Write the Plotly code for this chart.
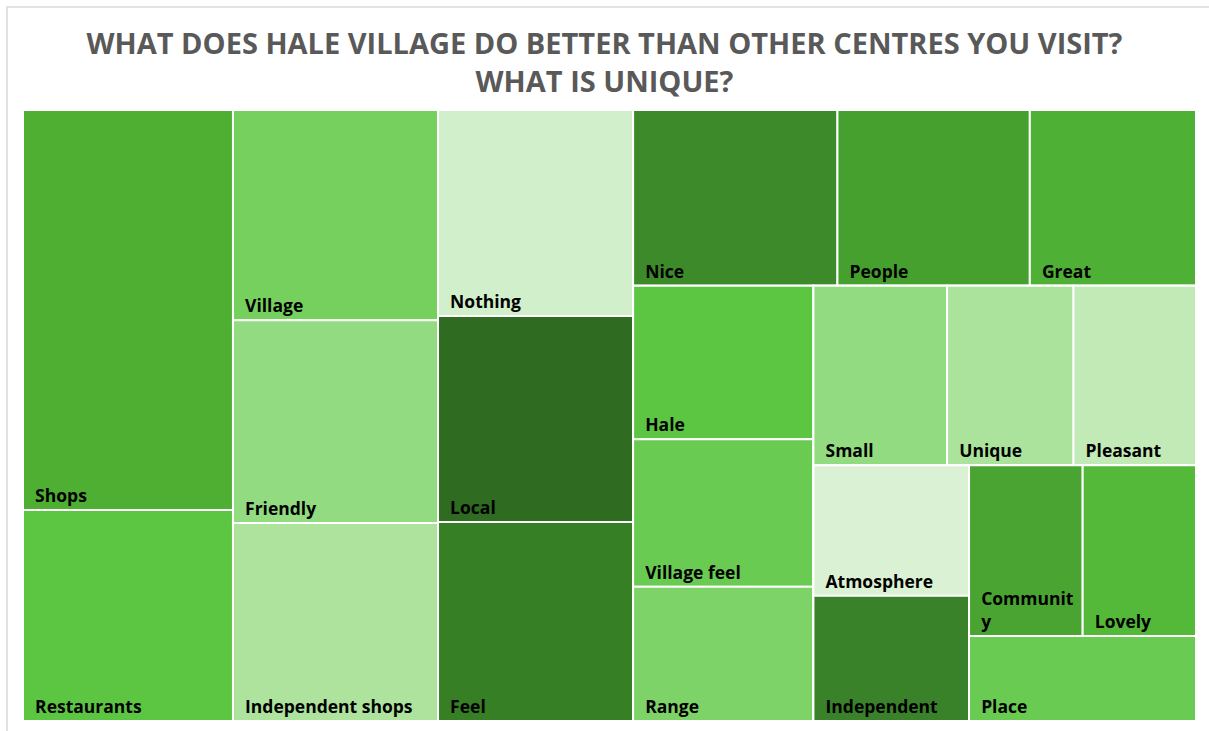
import plotly.graph_objects as go

# ---- data ----
labels = ["Shops", "Restaurants", "Village", "Friendly", "Independent shops",
          "Nothing", "Local", "Feel", "Nice", "People", "Great", "Hale",
          "Village feel", "Range", "Small", "Unique", "Pleasant", "Atmosphere",
          "Independent", "Community", "Lovely", "Place"]
display_text = ["Shops", "Restaurants", "Village", "Friendly", "Independent shops",
                "Nothing", "Local", "Feel", "Nice", "People", "Great", "Hale",
                "Village feel", "Range", "Small", "Unique", "Pleasant", "Atmosphere",
                "Independent", "Communit<br>y", "Lovely", "Place"]
values = [84.0, 44.3, 43.1, 41.6, 40.6, 40.2, 40.2, 38.8, 35.9, 33.8, 29.2, 27.7,
          26.6, 24.2, 24.0, 22.7, 22.0, 20.3, 19.5, 19.4, 19.35, 19.3]
colors = ["#4EAF32", "#5CC542", "#76D05E", "#93DB80", "#ADE39D",
          "#D2EFCB", "#2F6B20", "#367F25", "#3D8A2A", "#46A02E", "#4EB034", "#5CC542",
          "#69CB51", "#7DD367", "#93DB80", "#ABE39C", "#C2EAB6", "#DAF2D3",
          "#3A822A", "#4AA431", "#54B839", "#69CB51"]

# grouping used by the tiling (Excel-like strip layout)
leaf_group = ["col1", "col1", "col2", "col2", "col2", "col3", "col3", "col3",
              "row1", "row1", "row1", "col4", "col4", "col4", "row2", "row2", "row2",
              "col5", "col5", "row3", "row3", "rest5"]
groups = ["all", "col1", "col2", "col3", "rest1", "row1", "rest2", "col4",
          "rest3", "row2", "rest4", "col5", "rest5", "row3"]
group_parents = ["", "all", "all", "all", "all", "rest1", "rest1", "rest2",
                 "rest2", "rest3", "rest3", "rest4", "rest4", "rest5"]

title_text = "WHAT DOES HALE VILLAGE DO BETTER THAN OTHER CENTRES YOU VISIT?<br>WHAT IS UNIQUE?"

W, H = 1209, 731
L, R, T, B = 23, 13, 110, 10

ids = groups + labels
parents = group_parents + leaf_group
all_labels = groups + labels
all_values = [0] * len(groups) + values
all_colors = ["white"] * len(groups) + colors
all_text = [""] * len(groups) + ["\u00a0\u00a0" + t.replace("<br>", "<br>\u00a0\u00a0") for t in display_text]

fig = go.Figure(go.Treemap(
    ids=ids,
    labels=all_labels,
    parents=parents,
    values=all_values,
    branchvalues="remainder",
    text=all_text,
    textinfo="text",
    textposition="bottom left",
    textfont=dict(family="Open Sans", size=17.5, color="black", weight="bold"),
    marker=dict(colors=all_colors, line=dict(color="white", width=2),
                pad=dict(t=0, l=0, r=0, b=0)),
    tiling=dict(packing="slice-dice", pad=0),
    sort=False,
    pathbar=dict(visible=False),
    hoverinfo="label+value",
))

pw, ph = W - L - R, H - T - B
fig.update_layout(
    width=W, height=H,
    margin=dict(l=L, r=R, t=T, b=B),
    paper_bgcolor="white",
    title=dict(text=title_text, x=0.5, xanchor="center", y=1 - 54 / H, yanchor="top",
               font=dict(family="Open Sans", size=29, color="#595959", weight="bold")),
    shapes=[dict(type="rect", xref="paper", yref="paper",
                 x0=(7 - L) / pw, x1=(W + 5 - L) / pw,
                 y0=-(B + 5) / ph, y1=(H - B - 7) / ph,
                 line=dict(color="#D9D9D9", width=1.5), fillcolor="rgba(0,0,0,0)", layer="below")],
)

fig.write_html("out.html", config={"displayModeBar": False},
               post_script="document.body.style.margin='0';")
